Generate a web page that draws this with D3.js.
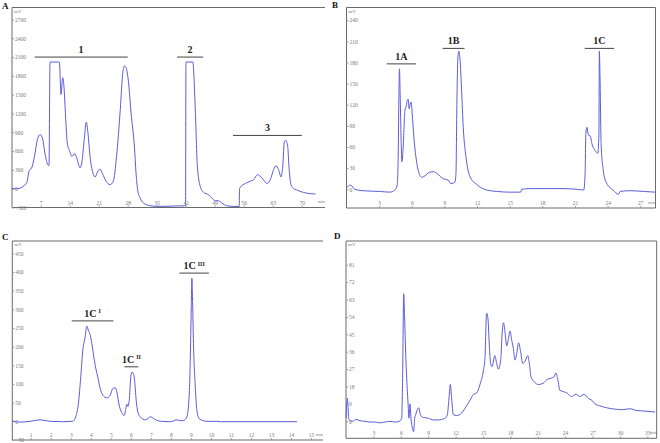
<!DOCTYPE html>
<html><head><meta charset="utf-8">
<script src="https://cdn.jsdelivr.net/npm/d3@7"></script>
<style>
html,body{margin:0;padding:0;background:#fff;}
svg{display:block;}
</style></head>
<body><svg id="chart" width="660" height="443"></svg>
<script>
// ---------- DATA ----------
// Panel A
const aTime = [0,1.4,3.6,4.25,4.8,5.5,6.2,6.85,7.5,8.0,8.7,9.0,9.25,11.5,11.9,12.3,12.6,13.0,13.4,14.0,14.5,15.2,15.7,16.5,16.9,17.5,18.0,18.4,18.9,19.6,20.1,20.8,21.3,21.9,22.8,23.7,24.5,25.3,26.2,26.8,27.2,27.6,28.2,28.8,29.6,30.0,30.4,31.0,31.8,33.4,35.8,39.0,41.8,41.95,42.05,43.7,44.3,44.8,45.5,46.3,47.5,48.3,49.1,49.9,50.7,51.9,53.5,54.9,54.98,56.4,57.5,58.4,59.3,60.4,61.6,62.4,63.2,63.8,64.4,65.0,65.4,65.8,66.1,66.6,66.9,67.4,68.0,68.8,70.4,72.0,73.3];
const aMV   = [0,0,91,292,330,517,784,864,784,570,383,368,2021,2021,1504,1771,1636,1157,731,597,517,560,490,330,410,784,1061,890,517,250,187,277,314,240,117,64,117,517,1264,1851,1958,1930,1690,1211,677,250,-21,-149,-229,-272,-283,-277,-272,-272,2021,2021,1264,357,37,-59,-96,-149,-192,-192,-229,-272,-283,-283,5,85,117,144,224,170,85,144,304,367,304,187,357,757,773,677,357,64,5,-21,-59,-80,-85];
const aYTicks = [-300,0,300,600,900,1200,1500,1800,2100,2400,2700];
const aXTicks = [7,14,21,28,35,42,49,56,63,70];
const aRegionLabels = ["1","2","3"];
const aRegionStart = [5.5,39.9,53.4];
const aRegionEnd   = [28,46.2,70];
const aRegionLevel = [2100,2100,850];

// Panel B
const bTime = [0.0,0.37,0.77,1.53,3.06,3.98,4.44,4.66,4.75,4.81,4.87,4.93,5.02,5.09,5.21,5.37,5.49,5.58,5.67,5.76,5.85,5.94,6.04,6.19,6.38,6.59,6.9,7.2,7.6,7.97,8.43,8.89,9.35,9.57,9.81,9.96,10.06,10.15,10.24,10.33,10.43,10.58,10.73,10.98,11.35,11.96,12.88,13.8,15.0,16.0,16.1,16.86,18.4,19.9,21.2,21.8,21.93,22.0,22.1,22.2,22.3,22.4,22.55,22.86,23.1,23.2,23.24,23.3,23.4,23.6,23.9,24.5,25.0,25.15,26.06,27.3,28.36];
const bMV   = [2,6,0,-2,-3,-4,-1,6,46,126,171,136,70,39,60,112,118,126,128,114,121,124,107,74,46,27,17,19,24,25,21,15,13,8,9,10,22,126,188,196,185,140,88,46,18,7,-1,-3,-4,-4,0,1,1,1,0,-1,22,79,88,79,76,76,65,55,51,79,196,160,65,27,9,-1,-7,-3,-2,-3,-4];
const bYTicks = [0,30,60,90,120,150,180,210,240];
const bXTicks = [3,6,9,12,15,18,21,24,27];
const bRegionLabels = ["1A","1B","1C"];
const bRegionStart = [3.7,8.83,21.9];
const bRegionEnd   = [6.4,10.85,24.6];
const bRegionLevel = [178,200,200];

// Panel C
const cTime = [0.08,0.47,0.97,1.47,1.97,2.63,3.1,3.27,3.38,3.5,3.6,3.72,3.8,3.88,3.97,4.08,4.18,4.27,4.35,4.47,4.6,4.8,4.97,5.1,5.22,5.3,5.42,5.55,5.67,5.75,5.8,5.85,5.92,6.0,6.05,6.13,6.18,6.27,6.35,6.47,6.72,7.0,7.2,7.55,7.97,8.3,8.47,8.63,8.8,8.92,8.97,9.02,9.05,9.08,9.13,9.22,9.3,9.42,9.8,10.3,10.47,14.3];
const cMV   = [1,-2,0,4,0,-1,0,16,47,119,190,226,255,244,231,199,163,137,119,88,70,63,70,88,90,79,43,23,16,34,46,40,56,119,132,128,114,56,25,12,4,12,5,0,-1,4,2,2,12,75,164,307,383,334,208,92,30,7,0,0,-1,-1];
const cYTicks = [-50,0,50,100,150,200,250,300,350,400,450];
const cXTicks = [1,2,3,4,5,6,7,8,9,10,11,12,13,14,15];
const cRegionLabels = ["1C","1C","1C"];
const cRegionSup    = ["I","II","III"];
const cRegionStart = [3.05,5.68,8.43];
const cRegionEnd   = [5.13,6.38,9.9];
const cRegionLevel = [269,146,397];

// Panel D
const dTime = [0.0,0.07,0.15,0.22,0.29,0.44,0.73,1.1,1.53,2.08,2.63,3.18,3.72,4.27,4.82,5.37,5.84,6.1,6.2,6.32,6.43,6.54,6.65,6.79,6.9,7.01,7.12,7.27,7.41,7.52,7.63,7.81,7.96,8.18,8.47,9.02,9.57,10.1,10.84,11.1,11.28,11.43,11.57,11.76,12.12,12.67,13.2,13.6,13.95,14.3,14.67,15.04,15.22,15.4,15.55,15.7,15.84,16.0,16.3,16.5,16.7,16.95,17.1,17.25,17.4,17.6,17.8,17.96,18.15,18.33,18.5,18.7,18.9,19.13,19.35,19.6,19.9,20.08,20.26,20.6,21.06,21.6,21.98,22.5,22.78,23.0,23.2,23.43,23.8,24.24,24.7,25.2,25.6,26.1,26.54,26.9,27.27,27.8,28.55,29.6,30.3,31.1,31.8,32.7,33.85];
const dMV   = [1.6,7.9,12,8,1.6,0.3,0,1,0.3,0,-0.4,-0.4,-0.8,-0.4,0,-0.4,0,1.6,22,66,52,35,22,10,1.6,9,1.6,-3.6,-5.3,1.6,3.4,6,7,3,2,1.6,0.7,0.7,1.6,3.4,12,19,12,3.4,3,4.3,8,11,13.8,14.6,19,26,32.5,56,53,39,30,28.3,34,30,27,32,45.5,51,47,39,43,46.7,42,37.7,31.7,35,40.6,36,30,31,34,30,23,20.6,19,19.7,21.5,22.4,23,25,21.5,16,15.4,14.5,12.8,14,12.8,14,11.8,11,9,8,7,6.2,6,6.5,5.6,5.3,4.8];
const dYTicks = [0,9,18,27,36,45,54,63,72,81];
const dXTicks = [3,6,9,12,15,18,21,24,27,30,33];

// ---------- DRAWING ----------
const svg = d3.select("#chart");
const LINE = "#5c5cda";
const AXIS = "#6a6a6a";
const TICKTXT = "#7a7a7a";
const SERIF = "'Liberation Serif','DejaVu Serif',serif";

function panel(cfg) {
  const g = svg.append("g");
  const x = d3.scaleLinear().domain(cfg.xDomain).range([cfg.left, cfg.right]);
  const y = d3.scaleLinear().domain(cfg.yDomain).range([cfg.bottom, cfg.top]);

  // frame
  g.append("line").attr("x1", cfg.left).attr("x2", cfg.right).attr("y1", cfg.top).attr("y2", cfg.top)
    .attr("stroke", AXIS).attr("stroke-width", 1);
  g.append("line").attr("x1", cfg.left).attr("x2", cfg.left).attr("y1", cfg.top).attr("y2", cfg.bottom)
    .attr("stroke", AXIS).attr("stroke-width", 1);
  g.append("line").attr("x1", cfg.left).attr("x2", cfg.right).attr("y1", cfg.bottom).attr("y2", cfg.bottom)
    .attr("stroke", AXIS).attr("stroke-width", 1);
  if (cfg.rightBorder) {
    g.append("line").attr("x1", cfg.right).attr("x2", cfg.right).attr("y1", cfg.top).attr("y2", cfg.bottom)
      .attr("stroke", AXIS).attr("stroke-width", 1);
  }

  // y axis ticks (labels inside the plot)
  const yAxis = d3.axisRight(y).tickValues(cfg.yTicks).tickSize(2).tickPadding(1)
    .tickFormat(d3.format("d"));
  const ya = g.append("g").attr("transform", `translate(${cfg.left},0)`).call(yAxis);
  ya.select(".domain").remove();
  ya.selectAll("line").attr("stroke", "#999");
  ya.selectAll("text").attr("font-family", SERIF).attr("font-size", 5.5).attr("fill", TICKTXT)
    .attr("dy", "0.32em");

  // x axis ticks (labels just above axis line)
  const xAxis = d3.axisTop(x).tickValues(cfg.xTicks).tickSize(2).tickPadding(1)
    .tickFormat(d3.format("d"));
  const xa = g.append("g").attr("transform", `translate(0,${cfg.bottom})`).call(xAxis);
  xa.select(".domain").remove();
  xa.selectAll("line").attr("stroke", "#999");
  xa.selectAll("text").attr("font-family", SERIF).attr("font-size", 5.5).attr("fill", TICKTXT);

  // unit labels
  g.append("text").attr("x", cfg.left + 2).attr("y", cfg.top + 5).text("mV")
    .attr("font-family", SERIF).attr("font-size", 5).attr("fill", TICKTXT);
  g.append("text").attr("x", cfg.minX).attr("y", cfg.bottom - 4.5).text("min")
    .attr("font-family", SERIF).attr("font-size", 4.5).attr("fill", TICKTXT);

  // panel letter
  g.append("text").attr("x", cfg.letterX).attr("y", cfg.letterY).text(cfg.letter)
    .attr("font-family", SERIF).attr("font-weight", "bold").attr("font-size", 9).attr("fill", "#111");

  // trace
  const pts = cfg.time.map((t, i) => [t, cfg.mv[i]]);
  const line = d3.line().x(d => x(d[0])).y(d => y(d[1])).curve(d3.curveMonotoneX);
  g.append("path").attr("d", line(pts)).attr("fill", "none").attr("stroke", LINE)
    .attr("stroke-width", 1).attr("stroke-linejoin", "round");

  // region bars and labels
  if (cfg.regLabels) {
    cfg.regLabels.forEach((lab, i) => {
      const x1 = x(cfg.regStart[i]), x2 = x(cfg.regEnd[i]), yy = y(cfg.regLevel[i]);
      g.append("line").attr("x1", x1).attr("x2", x2).attr("y1", yy).attr("y2", yy)
        .attr("stroke", "#444").attr("stroke-width", 1);
      const t = g.append("text").attr("x", (x1 + x2) / 2).attr("y", yy - 4).attr("text-anchor", "middle")
        .attr("font-family", SERIF).attr("font-weight", "bold").attr("font-size", 10).attr("fill", "#222")
        .text(lab);
      if (cfg.regSup) {
        t.append("tspan").attr("dx", 2).attr("dy", -3.5).attr("font-size", 6).text(cfg.regSup[i]);
      }
    });
  }
}

panel({letter: "A", letterX: 2, letterY: 9, minX: 318,
  left: 12, right: 325, top: 7.5, bottom: 207.5,
  xDomain: [0.07, 75.6], yDomain: [-300, 2891],
  xTicks: aXTicks, yTicks: aYTicks, time: aTime, mv: aMV, rightBorder: false,
  regLabels: aRegionLabels, regStart: aRegionStart, regEnd: aRegionEnd, regLevel: aRegionLevel});

panel({letter: "B", letterX: 332, letterY: 8, minX: 648,
  left: 346.5, right: 655.5, top: 7.5, bottom: 208,
  xDomain: [0, 28.4], yDomain: [-26.5, 258],
  xTicks: bXTicks, yTicks: bYTicks, time: bTime, mv: bMV, rightBorder: true,
  regLabels: bRegionLabels, regStart: bRegionStart, regEnd: bRegionEnd, regLevel: bRegionLevel});

panel({letter: "C", letterX: 2, letterY: 240, minX: 316,
  left: 12.3, right: 323, top: 241, bottom: 440,
  xDomain: [0.08, 15.6], yDomain: [-50, 483],
  xTicks: cXTicks, yTicks: cYTicks, time: cTime, mv: cMV, rightBorder: false,
  regLabels: cRegionLabels, regSup: cRegionSup, regStart: cRegionStart, regEnd: cRegionEnd, regLevel: cRegionLevel});

panel({letter: "D", letterX: 334, letterY: 239, minX: 650,
  left: 346, right: 656.7, top: 241, bottom: 438.3,
  xDomain: [0, 34.03], yDomain: [-8.8, 93.3],
  xTicks: dXTicks, yTicks: dYTicks, time: dTime, mv: dMV, rightBorder: true});
</script>
</body></html>
